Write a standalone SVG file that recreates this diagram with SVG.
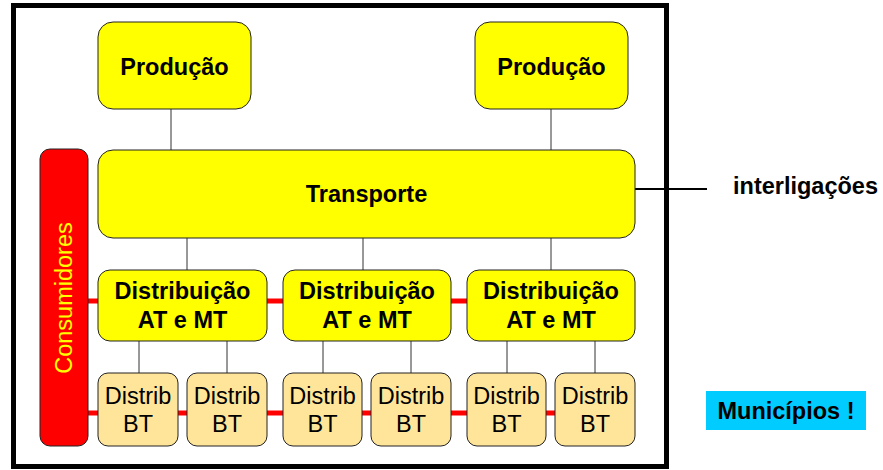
<svg xmlns="http://www.w3.org/2000/svg" width="883" height="470" viewBox="0 0 883 470">
<style>
text{font-family:"Liberation Sans",Arial,sans-serif;text-anchor:middle}
.b{font-weight:bold;font-size:23.5px;fill:#000}
.r{font-size:23.5px;fill:#000}
.y{fill:#ffff00;stroke:#222;stroke-width:1}
.bt{fill:#ffe599;stroke:#222;stroke-width:1}
.ln{stroke:#333;stroke-width:1;fill:none}
.red{stroke:#ff0000;stroke-width:5;fill:none}
</style>
<rect x="13.5" y="5.5" width="653" height="461" fill="#fff" stroke="#000" stroke-width="5"/>
<g id="connectors">
<line class="ln" x1="171" y1="109" x2="171" y2="150"/>
<line class="ln" x1="551" y1="109" x2="551" y2="150"/>
<line class="ln" x1="187" y1="238" x2="187" y2="270"/>
<line class="ln" x1="363" y1="238" x2="363" y2="270"/>
<line class="ln" x1="551" y1="238" x2="551" y2="270"/>
<line x1="635" y1="189" x2="707" y2="189" stroke="#000" stroke-width="2"/>
<line class="ln" x1="139" y1="341" x2="139" y2="373"/>
<line class="ln" x1="227" y1="341" x2="227" y2="373"/>
<line class="ln" x1="323" y1="341" x2="323" y2="373"/>
<line class="ln" x1="411" y1="341" x2="411" y2="373"/>
<line class="ln" x1="507" y1="341" x2="507" y2="373"/>
<line class="ln" x1="595" y1="341" x2="595" y2="373"/>
<line class="red" x1="88" y1="301" x2="98" y2="301"/>
<line class="red" x1="267" y1="301" x2="283" y2="301"/>
<line class="red" x1="451" y1="301" x2="467" y2="301"/>
<line class="red" x1="88" y1="413" x2="98" y2="413"/>
<line class="red" x1="178" y1="413" x2="187" y2="413"/>
<line class="red" x1="267" y1="413" x2="283" y2="413"/>
<line class="red" x1="362" y1="413" x2="371" y2="413"/>
<line class="red" x1="451" y1="413" x2="467" y2="413"/>
<line class="red" x1="546" y1="413" x2="555" y2="413"/>
</g>
<g id="producao1"><rect class="y" x="98" y="22" width="153" height="87" rx="15"/><text class="b" x="174.5" y="75">Produção</text></g>
<g id="producao2"><rect class="y" x="475" y="22" width="153" height="87" rx="15"/><text class="b" x="551.5" y="75">Produção</text></g>
<g id="transporte"><rect class="y" x="98" y="150" width="537" height="88" rx="15"/><text class="b" x="366.5" y="202">Transporte</text></g>
<g id="consumidores"><rect x="40" y="149" width="48" height="297" rx="10" fill="#ff0000" stroke="#222" stroke-width="1"/><text x="0" y="0" font-size="23.5" fill="#ffff00" transform="translate(72,298) rotate(-90)">Consumidores</text></g>
<g id="dist1"><rect class="y" x="98" y="270" width="169" height="71" rx="12"/><text class="b" x="182.5" y="299">Distribuição</text><text class="b" x="182.5" y="328">AT e MT</text></g>
<g id="dist2"><rect class="y" x="283" y="270" width="168" height="71" rx="12"/><text class="b" x="367" y="299">Distribuição</text><text class="b" x="367" y="328">AT e MT</text></g>
<g id="dist3"><rect class="y" x="467" y="270" width="168" height="71" rx="12"/><text class="b" x="551" y="299">Distribuição</text><text class="b" x="551" y="328">AT e MT</text></g>
<g id="bt1"><rect class="bt" x="98" y="373" width="80" height="73" rx="10"/><text class="r" x="138" y="404">Distrib</text><text class="r" x="138" y="432">BT</text></g>
<g id="bt2"><rect class="bt" x="187" y="373" width="80" height="73" rx="10"/><text class="r" x="227" y="404">Distrib</text><text class="r" x="227" y="432">BT</text></g>
<g id="bt3"><rect class="bt" x="283" y="373" width="79" height="73" rx="10"/><text class="r" x="322.5" y="404">Distrib</text><text class="r" x="322.5" y="432">BT</text></g>
<g id="bt4"><rect class="bt" x="371" y="373" width="80" height="73" rx="10"/><text class="r" x="411" y="404">Distrib</text><text class="r" x="411" y="432">BT</text></g>
<g id="bt5"><rect class="bt" x="467" y="373" width="79" height="73" rx="10"/><text class="r" x="506.5" y="404">Distrib</text><text class="r" x="506.5" y="432">BT</text></g>
<g id="bt6"><rect class="bt" x="555" y="373" width="80" height="73" rx="10"/><text class="r" x="595" y="404">Distrib</text><text class="r" x="595" y="432">BT</text></g>
<g id="interligacoes"><text class="b" x="805.5" y="194">interligações</text></g>
<g id="municipios"><rect x="706" y="391" width="160" height="39" fill="#00ccff"/><text class="b" x="786" y="419" font-size="22">Municípios !</text></g>
</svg>
